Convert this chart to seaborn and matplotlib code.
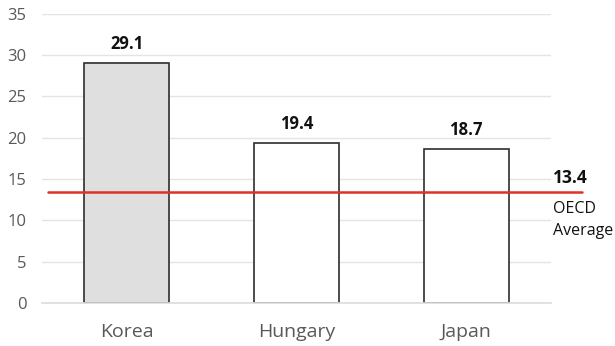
import matplotlib
matplotlib.use("Agg")
import matplotlib.pyplot as plt
import seaborn as sns
import pandas as pd

countries = ["Korea", "Hungary", "Japan"]
values = [29.1, 19.4, 18.7]
bar_colors = ["#e0dfe0", "#ffffff", "#ffffff"]
oecd_average = 13.4
y_ticks = [0, 5, 10, 15, 20, 25, 30, 35]

sns.set_theme(style="white")
plt.rcParams["font.family"] = ["Open Sans", "DejaVu Sans"]

df = pd.DataFrame({"country": countries, "value": values})

fig = plt.figure(figsize=(6.15, 3.46), dpi=100)
ax = fig.add_axes([0.068, 0.124, 0.828, 0.836])

sns.barplot(data=df, x="country", y="value", hue="country", palette=bar_colors,
            edgecolor="#2e2e2e", linewidth=1.2, width=0.5, legend=False, ax=ax)

ax.set_ylim(0, 35)
ax.set_xlim(-0.5, 2.5)
ax.set_yticks(y_ticks)
ax.yaxis.grid(True, color="#e4e4e4", linewidth=1)
ax.set_axisbelow(True)
for side in ["top", "right", "left"]:
    ax.spines[side].set_visible(False)
ax.spines["bottom"].set_color("#dcdcdc")
ax.spines["bottom"].set_linewidth(1.2)
ax.set_xlabel("")
ax.set_ylabel("")
ax.tick_params(axis="y", labelsize=12, labelcolor="#595959", length=0, pad=11)
ax.tick_params(axis="x", labelsize=14, labelcolor="#595959", length=0, pad=14)

for i, v in enumerate(values):
    ax.text(i, v + 1.2, f"{v:.1f}", ha="center", va="bottom",
            fontsize=12, fontweight="bold", color="#111111")

# OECD average reference line, running past the right edge of the plot
ax.plot([-0.465, 2.68], [oecd_average, oecd_average], color="#e0302a",
        linewidth=1.8, clip_on=False, zorder=5)
ax.text(2.51, oecd_average + 0.6, f"{oecd_average}", ha="left", va="bottom",
        fontsize=12.5, fontweight="bold", color="#111111", clip_on=False)
ax.text(2.51, oecd_average - 1.1, "OECD\nAverage", ha="left", va="top",
        fontsize=11.5, color="#111111", linespacing=1.5, clip_on=False)

fig.savefig("out.png", dpi=100)
